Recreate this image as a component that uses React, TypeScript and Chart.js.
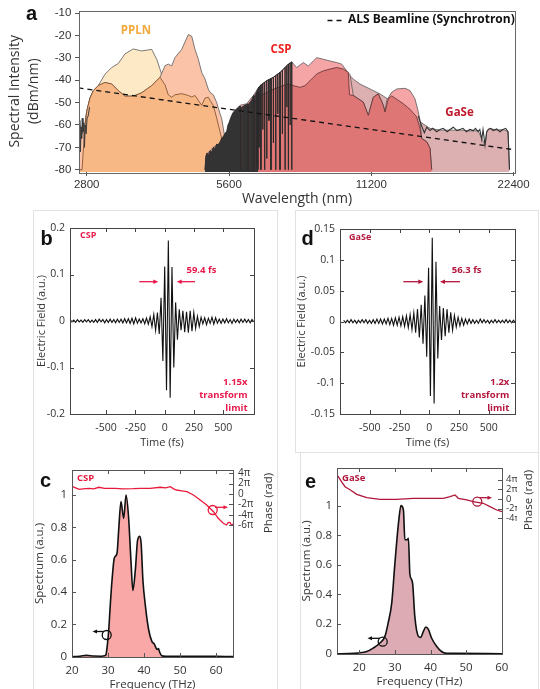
import React, { useEffect, useRef } from 'react';
import { Chart, registerables } from 'chart.js';

Chart.register(...registerables);

const SANS = "'Open Sans', 'DejaVu Sans', sans-serif";
const ARIAL = "'Liberation Sans', Arial, sans-serif";
const LETTER_FONT = "bold 20px 'Liberation Sans', Arial, sans-serif";
const INK = '#333333';

/* ---------------- panel a : spectral intensity vs wavelength ---------------- */
const aXTicks = [2800, 5600, 11200, 22400];
const aYTicks = [-80, -70, -60, -50, -40, -30, -20, -10];

const pplnWl = [2690, 2710, 2737, 2773, 2800, 2845, 2892, 2963, 3061, 3163, 3266, 3374, 3513, 3660, 3843, 3937, 4001, 4100, 4166, 4236, 4304, 4447, 4593, 4670, 4745, 4822, 4903, 4982, 5063, 5105, 5188, 5275, 5360, 5404, 5492, 5538];
const pplnA = [-80, -80, -80, -62, -54, -48, -44.6, -42.4, -37.3, -34.3, -32.5, -28.2, -26, -26.9, -26.2, -30.6, -35, -42, -46.5, -47.6, -46.5, -46, -46.8, -47.5, -46.8, -49, -51.2, -48, -47.6, -49, -51.2, -57, -63, -66, -80, -80];
const pplnB = [-63, -60, -64, -60, -54, -48, -44.6, -42.4, -41, -41.7, -44.6, -47.1, -47.1, -45.6, -42.4, -40.2, -38.7, -33.5, -32.8, -33.6, -29.9, -26.2, -19.6, -20.3, -26.2, -30.6, -36.5, -39.4, -44, -45.4, -46.5, -50, -55, -57.1, -66, -80];
const pplnEdgeWl = [2692, 2700, 2708, 2716, 2724, 2732, 2740, 2750, 2760, 2770, 2780, 2792, 2805, 2820, 2840];
const pplnEdgeDb = [-60, -68, -58, -72, -61, -66, -57, -63, -59, -70, -60, -64, -57, -56, -52];

const cspWl = [4982, 5024, 5188, 5360, 5538, 5718, 5908, 6104, 6304, 6513, 6729, 6949, 7179, 7357, 7475, 7600, 7788, 8042, 8241, 8444, 8585, 8866, 9160, 9463, 9696, 9935, 10097, 10260, 10773, 11038, 11310, 11588, 11874, 11973, 12072, 12370, 12675, 13198, 13523, 13856, 14081, 14198, 14316, 14670, 14907, 15031];
const cspDb = [-80, -73, -70, -68, -63, -54.2, -51.2, -50.5, -46.8, -42.4, -40.2, -38.7, -36.5, -34.3, -32.8, -31.8, -34.3, -32.1, -33.6, -31.4, -29.9, -30.6, -31.4, -32.1, -32.8, -35.8, -37.5, -46.8, -49.8, -55.7, -47.6, -46.1, -51.2, -54.2, -49, -45.4, -43.9, -43.6, -44.6, -48.3, -54.2, -57.9, -66, -67.5, -70.4, -80];
const cspLowWl = [4982, 5105, 5360, 5718, 6104, 6513, 6949, 7179, 7416, 7663, 7914, 8109, 8309, 8585, 8866, 9160, 9463, 9772, 10013, 10070, 10260, 10773, 11038, 11310, 11588, 11874, 11973, 12167, 12370, 12675, 13089, 13523, 13972, 14198, 14316, 14670, 14907, 15031];
const cspLowDb = [-80, -75, -71, -60, -53, -47, -44, -43, -41.7, -42.4, -43.2, -42.4, -40.2, -37.2, -35.8, -35, -34.3, -35, -36.5, -46.5, -46.8, -49.8, -55.7, -47.6, -46.1, -51.2, -54.2, -48.3, -47, -48.5, -50.5, -53, -56.4, -61.5, -66, -67.5, -70.4, -80];
const gaseWl = [9463, 9935, 10097, 10260, 10601, 11129, 11685, 12268, 12881, 13523, 14198, 14907, 15652, 16434, 17254, 18410, 18836, 19178, 19489, 19650, 19969, 20632, 21274, 21800, 21957];
const gaseDb = [-34.5, -36.5, -38, -39.5, -41.7, -43.9, -46.1, -49, -51.2, -54.9, -58.6, -61.5, -62.3, -62.3, -62.3, -62.7, -62.5, -66, -69, -63, -61.5, -62.3, -62, -63, -80];
const gaseNoiseWl = [14081, 14316, 14500, 14670, 14907, 15100, 15400, 15652, 15900, 16200, 16434, 16700, 17000, 17254, 17500, 17800, 18100, 18410, 18600, 18836, 19000, 19178, 19300, 19489, 19650, 19800, 19969, 20300, 20632, 20950, 21274, 21550, 21800, 21957];
const gaseNoiseDb = [-56, -60.5, -63.5, -61, -62.5, -61.5, -63, -62, -61.5, -63, -62, -61, -62.5, -62, -61.5, -63, -62, -62.5, -61.5, -63, -62, -66.5, -62, -69, -63, -62, -61.5, -62.5, -61.8, -63, -62, -61.5, -63, -80];
const absFillWl = [4982, 5000, 5030, 5060, 5105, 5150, 5188, 5230, 5275, 5320, 5360, 5400, 5450, 5500, 5538, 5570, 5600, 5640, 5680, 5718, 5760, 5800, 5850, 5908, 5940, 5941, 5975, 5976, 6010, 6060, 6104, 6150, 6151, 6185, 6186, 6220, 6260, 6304, 6330, 6331, 6365, 6366, 6400, 6450, 6451];
const absFillDb = [-80, -74, -72.5, -73.5, -71.5, -72, -70, -70.5, -68.5, -69, -67.5, -66, -65, -63.5, -63, -60, -59, -57, -55.5, -54.5, -54, -53, -52.5, -51.5, -52, -80, -80, -51.8, -51.5, -51, -50.8, -50.5, -80, -80, -50, -49.5, -48.5, -47, -46.8, -80, -80, -46.3, -45.5, -45, -80];
const absLineWl = [6420, 6420, 6428, 6480, 6480, 6488, 6540, 6540, 6548, 6600, 6600, 6608, 6660, 6660, 6668, 6729, 6729, 6737, 6800, 6800, 6808, 6870, 6870, 6878, 6949, 6949, 6957, 7030, 7030, 7038, 7100, 7100, 7108, 7179, 7179, 7187, 7260, 7260, 7268, 7357, 7357, 7365, 7420, 7420, 7428, 7475, 7475, 7483, 7540, 7540, 7548, 7600, 7600, 7608];
const absLineDb = [-44.4, -78, -44.4, -43.1, -70, -43.1, -42.1, -80, -42.1, -41.5, -62, -41.5, -40.9, -80, -40.9, -40.2, -75, -40.2, -39.7, -58, -39.7, -39.2, -80, -39.2, -38.7, -68, -38.7, -37.9, -80, -37.9, -37.2, -55, -37.2, -36.5, -80, -36.5, -35.5, -64, -35.5, -34.3, -80, -34.3, -33.5, -52, -33.5, -32.8, -80, -32.8, -32.3, -60, -32.3, -31.8, -80, -31.8];
const alsWl = [2690, 5600, 11200, 22555];
const alsDb = [-43.4, -53, -62, -71.1];

/* ---------------- panel b : CSP pulse ---------------- */
const timeTicks = [-500, -250, 0, 250, 500];
const bYTicks = [-0.2, -0.1, 0, 0.1, 0.2];
const bStartFs = -837;
const bStepFs = 15.5;
const bField = [
  0.002, -0.002, 0.003, -0.002, 0.002, -0.003, 0.003, -0.002, 0.002, -0.003,
  0.003, -0.002, 0.003, -0.003, 0.002, -0.003, 0.003, -0.003, 0.004, -0.002,
  0.003, -0.004, 0.003, -0.003, 0.004, -0.003, 0.003, -0.004, 0.004, -0.003,
  0.004, -0.004, 0.005, -0.004, 0.005, -0.005, 0.006, -0.006, 0.007, -0.005,
  0.004, -0.004, 0.005, -0.006, 0.006, -0.007, 0.009, -0.012, 0.014, -0.02,
  0.018, -0.028, 0.05, -0.086, 0.117, -0.149, 0.173, -0.165, 0.116, -0.1,
  0.04, -0.04, 0.025, -0.02, 0.022, -0.024, 0.02, -0.025, 0.022, -0.022,
  0.018, -0.016, 0.01, -0.012, 0.008, -0.006, 0.007, -0.008, 0.006, -0.005,
  0.008, -0.007, 0.007, -0.005, 0.004, -0.005, 0.004, -0.004, 0.005, -0.004,
  0.003, -0.005, 0.004, -0.003, 0.003, -0.004, 0.004, -0.003, 0.004, -0.003,
  0.003, -0.004, 0.003, -0.002,
];

/* ---------------- panel d : GaSe pulse ---------------- */
const dYTicks = [-0.15, -0.1, -0.05, 0, 0.05, 0.1, 0.15];
const dStartFs = -719;
const dStepFs = 15.5;
const dField = [
  0.002, -0.002, 0.002, -0.002, 0.003, -0.002, 0.002, -0.003, 0.002, -0.002,
  0.003, -0.002, 0.003, -0.003, 0.002, -0.003, 0.003, -0.003, 0.004, -0.003,
  0.004, -0.004, 0.004, -0.004, 0.005, -0.005, 0.005, -0.006, 0.006, -0.006,
  0.007, -0.007, 0.008, -0.008, 0.009, -0.01, 0.011, -0.013, 0.014, -0.018,
  0.02, -0.026, 0.027, -0.036, 0.042, -0.057, 0.087, -0.121, 0.136, -0.133,
  0.097, -0.06, 0.025, -0.03, 0.022, -0.024, 0.02, -0.018, 0.015, -0.014,
  0.01, -0.009, 0.007, -0.007, 0.005, -0.006, 0.004, -0.004, 0.004, -0.003,
  0.003, -0.003, 0.002, -0.003, 0.004, -0.002, 0.003, -0.002, 0.002, -0.003,
  0.002, -0.002, 0.003, -0.002, 0.002, -0.002, 0.002, -0.002, 0.003, -0.002,
  0.002, -0.002, 0.002, -0.002,
];

/* ---------------- panel c : CSP spectrum & phase ---------------- */
const cXTicks = [20, 30, 40, 50, 60];
const specTicks = [0, 0.2, 0.4, 0.6, 0.8, 1];
const cPhaseTicks = [-6, -4, -2, 0, 2, 4];
const cFreq = [20, 21, 22, 23, 24, 26, 28, 29, 29.4, 29.7, 30.2, 30.6, 31.1, 31.75, 32.5, 32.95, 33.6, 34.35, 35, 35.7, 36.4, 36.9, 37.6, 38.2, 38.8, 39.2, 39.7, 40.4, 41.3, 42.2, 42.8, 43.2, 43.6, 44.0, 44.3, 44.9, 46, 50, 55, 60, 65];
const cSpec = [0, 0.001, 0.002, 0.006, 0.008, 0.004, 0.003, 0.006, 0.01, 0.05, 0.165, 0.31, 0.47, 0.61, 0.64, 0.78, 0.96, 0.855, 1.0, 0.866, 0.58, 0.41, 0.54, 0.72, 0.745, 0.7, 0.47, 0.31, 0.165, 0.093, 0.08, 0.06, 0.045, 0.05, 0.03, 0.005, 0.002, 0.003, 0.003, 0.002, 0.001];
const cPhaseFreq = [20.2, 21, 22, 23, 24.8, 26, 27.5, 29, 32, 34, 37, 39, 41.7, 44.5, 46, 47.3, 48.2, 49, 50.5, 51.9, 53.7, 55.6, 57.4, 59.3, 60.6, 62, 62.9, 63.4, 63.9, 64.3, 64.7];
const cPhasePi = [1.41, 1.2, 0.9, 1.0, 1.1, 1.0, 1.3, 1.1, 1.1, 1.0, 1.03, 1.1, 1.1, 1.3, 1.2, 1.41, 1.0, 0.77, 0.6, 0.45, -0.19, -1.16, -2.13, -3.42, -4.7, -5.67, -6, -5.5, -5.55, -6, -5.8];

/* ---------------- panel e : GaSe spectrum & phase ---------------- */
const ePhaseTicks = [-4, -2, 0, 2, 4];
const eFreq = [13.7, 17, 19.7, 22.1, 23.9, 25.8, 27.2, 28.1, 29.1, 30, 31, 31.7, 32.4, 32.8, 33.5, 33.8, 34.2, 34.7, 35.0, 35.6, 36.6, 37.2, 38, 38.7, 39.4, 40.3, 41.7, 43.1, 44.5, 47.3, 60.1];
const eSpec = [0, 0.001, 0.005, 0.015, 0.038, 0.072, 0.117, 0.207, 0.34, 0.61, 0.88, 1.0, 0.97, 0.77, 0.77, 0.78, 0.54, 0.5, 0.47, 0.25, 0.117, 0.11, 0.15, 0.18, 0.165, 0.106, 0.05, 0.015, 0.003, 0.002, 0];
const ePhaseFreq = [13.7, 14.1, 15, 16, 17.5, 19.3, 22.1, 25.8, 30.5, 35.2, 39.9, 43.6, 45.5, 46.9, 47.8, 50.2, 52, 54.8, 56.7, 58.6, 60.1];
const ePhasePi = [4.9, 4.57, 3.55, 2.52, 1.85, 0.96, 0.27, -0.06, -0.06, 0.14, 0.14, 0.14, 0.47, 0.82, 0.14, -0.2, -0.55, -0.88, -1.58, -2.26, -2.6];

/* ---------------- helpers ---------------- */
const xy = (xs: number[], ys: number[]) => xs.map((x, i) => ({ x, y: ys[i] }));
const sampled = (start: number, step: number, ys: number[]) => ys.map((y, i) => ({ x: start + i * step, y }));
const pplnOverlap = pplnA.map((v, i) => Math.min(v, pplnB[i]));

const area = (data: any[], fill: string, stroke: string, w = 0.8, extra: any = {}) => ({
  data, borderColor: stroke, backgroundColor: fill, borderWidth: w, fill: 'start', pointRadius: 0, tension: 0, ...extra,
});
const trace = (data: any[], stroke: string, w = 1, extra: any = {}) => ({
  data, borderColor: stroke, borderWidth: w, fill: false, pointRadius: 0, tension: 0, ...extra,
});
const layered = (ds: any[]) => ds.map((d, i) => ({ ...d, order: -i }));

const fixW = (w: number) => (s: any) => { s.width = w; };
const fixH = (h: number) => (s: any) => { s.height = h; };
const setTicks = (vals: number[]) => (s: any) => { s.ticks = vals.map((v) => ({ value: v })); };
const num = (v: any) => String(Math.round(Number(v) * 1000) / 1000);
const piLabel = (v: any) => (Number(v) === 0 ? '0' : `${v}\u03C0`);
const quietGrid = { display: true, drawOnChartArea: false, drawTicks: false };
const f = (size: number, weight: any = 'normal', family = SANS, lineHeight: any = 1.2) => ({ family, size, weight, lineHeight });

type Txt = { t: string; x: number; y: number; font: string; color: string; align?: CanvasTextAlign; base?: CanvasTextBaseline; rot?: number };
type Arrow = { x1: number; y1: number; x2: number; y2: number; color: string; w?: number; head?: number };
type Circ = { x: number; y: number; r: number; color: string; w?: number };
type TickSpec = { scale: string; sides: string[]; len: number; color: string };
type Decor = { frame?: { color: string; width: number }; ticks?: TickSpec[]; texts?: Txt[]; arrows?: Arrow[]; circles?: Circ[]; dashes?: { x1: number; x2: number; y: number; color: string; dash: number[]; w: number }[] };

function decorPlugin(d: Decor) {
  return {
    id: 'decor',
    afterDraw(chart: any) {
      const ctx: CanvasRenderingContext2D = chart.ctx;
      const a = chart.chartArea;
      ctx.save();
      for (const ts of d.ticks || []) {
        const sc = chart.scales[ts.scale];
        ctx.strokeStyle = ts.color;
        ctx.lineWidth = 1;
        for (const tk of sc.ticks) {
          const p = Math.round(sc.getPixelForValue(tk.value)) + 0.5;
          ctx.beginPath();
          for (const s of ts.sides) {
            if (s === 'bottom') { ctx.moveTo(p, a.bottom); ctx.lineTo(p, a.bottom - ts.len); }
            if (s === 'top') { ctx.moveTo(p, a.top); ctx.lineTo(p, a.top + ts.len); }
            if (s === 'left') { ctx.moveTo(a.left, p); ctx.lineTo(a.left + ts.len, p); }
            if (s === 'right') { ctx.moveTo(a.right, p); ctx.lineTo(a.right - ts.len, p); }
          }
          ctx.stroke();
        }
      }
      if (d.frame) {
        ctx.strokeStyle = d.frame.color;
        ctx.lineWidth = d.frame.width;
        ctx.strokeRect(Math.round(a.left) + 0.5, Math.round(a.top) + 0.5, Math.round(a.right - a.left), Math.round(a.bottom - a.top));
      }
      for (const ds of d.dashes || []) {
        ctx.strokeStyle = ds.color;
        ctx.lineWidth = ds.w;
        ctx.setLineDash(ds.dash);
        ctx.beginPath();
        ctx.moveTo(ds.x1, ds.y);
        ctx.lineTo(ds.x2, ds.y);
        ctx.stroke();
        ctx.setLineDash([]);
      }
      for (const c of d.circles || []) {
        ctx.strokeStyle = c.color;
        ctx.lineWidth = c.w || 1.3;
        ctx.beginPath();
        ctx.arc(c.x, c.y, c.r, 0, Math.PI * 2);
        ctx.stroke();
      }
      for (const ar of d.arrows || []) {
        const h = ar.head || 5;
        const ang = Math.atan2(ar.y2 - ar.y1, ar.x2 - ar.x1);
        ctx.strokeStyle = ar.color;
        ctx.fillStyle = ar.color;
        ctx.lineWidth = ar.w || 1.3;
        ctx.beginPath();
        ctx.moveTo(ar.x1, ar.y1);
        ctx.lineTo(ar.x2 - Math.cos(ang) * h * 0.8, ar.y2 - Math.sin(ang) * h * 0.8);
        ctx.stroke();
        ctx.beginPath();
        ctx.moveTo(ar.x2, ar.y2);
        ctx.lineTo(ar.x2 - Math.cos(ang) * h + Math.sin(ang) * h * 0.45, ar.y2 - Math.sin(ang) * h - Math.cos(ang) * h * 0.45);
        ctx.lineTo(ar.x2 - Math.cos(ang) * h - Math.sin(ang) * h * 0.45, ar.y2 - Math.sin(ang) * h + Math.cos(ang) * h * 0.45);
        ctx.closePath();
        ctx.fill();
      }
      for (const t of d.texts || []) {
        ctx.save();
        ctx.font = t.font;
        ctx.fillStyle = t.color;
        ctx.textAlign = t.align || 'left';
        ctx.textBaseline = t.base || 'middle';
        ctx.translate(t.x, t.y);
        if (t.rot) ctx.rotate(t.rot);
        ctx.fillText(t.t, 0, 0);
        ctx.restore();
      }
      ctx.restore();
    },
  };
}

const baseOptions = (padding: any) => ({
  responsive: false,
  animation: false,
  events: [],
  layout: { padding },
  plugins: { legend: { display: false }, tooltip: { enabled: false } },
});

/* ---------------- chart configurations ---------------- */
function configA(): any {
  return {
    type: 'line',
    data: {
      datasets: layered([
        area(xy(pplnWl, pplnA), '#fde9c6', '#5a5a5a'),
        area(xy(pplnWl, pplnB), '#fbc4a9', '#5a5a5a'),
        area(xy(pplnWl, pplnOverlap), '#f7b886', '#7a4a2a'),
        area(xy(gaseWl, gaseDb), '#dcafb1', '#5a5a5a'),
        area(xy(cspWl, cspDb), '#f6a5a7', '#5a5a5a'),
        area(xy(cspLowWl, cspLowDb), '#de7676', '#5a2f2f'),
        area(xy(absFillWl, absFillDb), '#333333', '#2a2a2a', 0.8),
        trace(xy(absLineWl, absLineDb), '#2a2a2a', 1),
        trace(xy(pplnEdgeWl, pplnEdgeDb), '#3a3a3a', 1),
        trace(xy(gaseNoiseWl, gaseNoiseDb), '#333333', 1.1),
        trace(xy(alsWl, alsDb), '#111111', 1.3, { borderDash: [5, 4] }),
      ]),
    },
    options: {
      ...baseOptions({ left: 0, top: 9, right: 25, bottom: 481 }),
      scales: {
        x: {
          type: 'logarithmic', min: 2697, max: 22552,
          afterBuildTicks: setTicks(aXTicks), afterFit: fixH(36),
          ticks: { callback: (v: any) => String(v), font: f(11.5, 'normal', ARIAL), color: INK, padding: 2.4, autoSkip: false, maxRotation: 0 },
          grid: { display: true, drawOnChartArea: false, drawTicks: true, tickLength: 4, color: '#555' },
          border: { display: false },
          title: { display: true, text: 'Wavelength (nm)', font: f(14), color: INK, padding: { top: 0, bottom: 0.6 } },
        },
        y: {
          min: -81.02, max: -8.82,
          afterBuildTicks: setTicks(aYTicks), afterFit: fixW(79),
          ticks: { callback: (v: any) => String(v), font: f(11.5, 'normal', ARIAL), color: INK, padding: 3.6 },
          grid: { display: true, drawOnChartArea: false, drawTicks: true, tickLength: 4, color: '#555' },
          border: { display: false },
          title: { display: true, text: ['Spectral Intensity', '(dBm/nm)'], font: f(14, 'normal', SANS, '19px'), color: INK, padding: { top: 6, bottom: 0 } },
        },
      },
    },
    plugins: [decorPlugin({
      frame: { color: '#666', width: 1 },
      texts: [
        { t: 'a', x: 26, y: 20, font: LETTER_FONT, color: '#111', base: 'alphabetic' },
        { t: 'PPLN', x: 136, y: 31, font: `bold 11.5px ${SANS}`, color: '#f2a93b', align: 'center' },
        { t: 'CSP', x: 281, y: 50, font: `bold 11.5px ${SANS}`, color: '#ee2222', align: 'center' },
        { t: 'GaSe', x: 459.5, y: 113, font: `bold 11.5px ${SANS}`, color: '#c0182c', align: 'center' },
        { t: 'ALS Beamline (Synchrotron)', x: 348, y: 20, font: `bold 12px ${SANS}`, color: '#111' },
      ],
      dashes: [{ x1: 327.5, x2: 345, y: 20.5, color: '#111', dash: [5, 4], w: 1.3 }],
    })],
  };
}

function pulseConfig(opts: { data: any[]; yTicks: number[]; yMax: number; xMin: number; xMax: number; pad: any; yW: number; decor: Decor }): any {
  return {
    type: 'line',
    data: { datasets: [trace(opts.data, '#111111', 1.1)] },
    options: {
      ...baseOptions(opts.pad),
      scales: {
        x: {
          type: 'linear', min: opts.xMin, max: opts.xMax,
          afterBuildTicks: setTicks(timeTicks), afterFit: fixH(36),
          ticks: { callback: (v: any) => String(v), font: f(10.5), color: INK, padding: 7.7, autoSkip: false, maxRotation: 0 },
          grid: quietGrid, border: { display: false },
          title: { display: true, text: 'Time (fs)', font: f(11), color: INK, padding: { top: 0, bottom: 0.4 } },
        },
        y: {
          min: -opts.yMax, max: opts.yMax,
          afterBuildTicks: setTicks(opts.yTicks), afterFit: fixW(opts.yW),
          ticks: { callback: num, font: f(10.5), color: INK, padding: 5 },
          grid: quietGrid, border: { display: false },
          title: { display: true, text: 'Electric Field (a.u.)', font: f(11), color: INK, padding: { top: 5.1, bottom: 0 } },
        },
      },
    },
    plugins: [decorPlugin(opts.decor)],
  };
}

function spectrumConfig(opts: { spec: any[]; phase: any[]; fill: string; phaseColor: string; xMin: number; xMax: number; yMax: number; pMin: number; pMax: number; pTicks: number[]; pFont: number; pPad: number; pad: any; yW: number; pW: number; xH: number; xLabPad: number; xTitlePad: number; decor: Decor }): any {
  return {
    type: 'line',
    data: {
      datasets: layered([
        area(opts.spec, opts.fill, '#111111', 1.6, { yAxisID: 'y', cubicInterpolationMode: 'monotone' }),
        trace(opts.phase, opts.phaseColor, 1.3, { yAxisID: 'y2' }),
      ]),
    },
    options: {
      ...baseOptions(opts.pad),
      scales: {
        x: {
          type: 'linear', min: opts.xMin, max: opts.xMax,
          afterBuildTicks: setTicks(cXTicks), afterFit: fixH(opts.xH),
          ticks: { callback: (v: any) => String(v), font: f(11.5), color: INK, padding: opts.xLabPad, autoSkip: false, maxRotation: 0 },
          grid: quietGrid, border: { display: false },
          title: { display: true, text: 'Frequency (THz)', font: f(11.5), color: INK, padding: { top: 0, bottom: opts.xTitlePad } },
        },
        y: {
          position: 'left', min: -0.002, max: opts.yMax,
          afterBuildTicks: setTicks(specTicks), afterFit: fixW(opts.yW),
          ticks: { callback: num, font: f(11.5), color: INK, padding: 5 },
          grid: quietGrid, border: { display: false },
          title: { display: true, text: 'Spectrum (a.u.)', font: f(11.5), color: INK, padding: { top: 5.1, bottom: 0 } },
        },
        y2: {
          position: 'right', min: opts.pMin, max: opts.pMax,
          afterBuildTicks: setTicks(opts.pTicks), afterFit: fixW(opts.pW),
          ticks: { callback: piLabel, font: f(opts.pFont), color: INK, padding: opts.pPad },
          grid: quietGrid, border: { display: false },
        },
      },
    },
    plugins: [decorPlugin(opts.decor)],
  };
}

const CSP_RED = '#e8194b';
const GASE_RED = '#b3163c';
const bold = (s: number) => `bold ${s}px ${SANS}`;

function configB(): any {
  return pulseConfig({
    data: sampled(bStartFs, bStepFs, bField), yTicks: bYTicks, yMax: 0.2, xMin: -807, xMax: 761,
    pad: { left: 30, top: 228, right: 286, bottom: 239 }, yW: 40,
    decor: {
      frame: { color: '#444', width: 1 },
      ticks: [{ scale: 'x', sides: ['bottom', 'top'], len: 4, color: '#444' }, { scale: 'y', sides: ['left', 'right'], len: 4, color: '#444' }],
      texts: [
        { t: 'b', x: 40.5, y: 245, font: LETTER_FONT, color: '#111', base: 'alphabetic' },
        { t: 'CSP', x: 80, y: 235.5, font: bold(9), color: CSP_RED },
        { t: '59.4 fs', x: 186.5, y: 270, font: bold(9.5), color: CSP_RED },
        { t: '1.15x', x: 247.5, y: 382.7, font: bold(9.5), color: CSP_RED, align: 'right' },
        { t: 'transform', x: 247.5, y: 395.7, font: bold(9.5), color: CSP_RED, align: 'right' },
        { t: 'limit', x: 247.5, y: 408.3, font: bold(9.5), color: CSP_RED, align: 'right' },
      ],
      arrows: [
        { x1: 139.3, y1: 281.7, x2: 158.3, y2: 281.7, color: CSP_RED },
        { x1: 195, y1: 281.7, x2: 176.7, y2: 281.7, color: CSP_RED },
      ],
    },
  });
}

function configD(): any {
  return pulseConfig({
    data: sampled(dStartFs, dStepFs, dField), yTicks: dYTicks, yMax: 0.15, xMin: -750, xMax: 720,
    pad: { left: 290, top: 229, right: 25, bottom: 239 }, yW: 50,
    decor: {
      frame: { color: '#444', width: 1 },
      ticks: [{ scale: 'x', sides: ['bottom', 'top'], len: 4, color: '#444' }, { scale: 'y', sides: ['left', 'right'], len: 4, color: '#444' }],
      texts: [
        { t: 'd', x: 301.5, y: 245, font: LETTER_FONT, color: '#111', base: 'alphabetic' },
        { t: 'GaSe', x: 349, y: 237.3, font: bold(9), color: GASE_RED },
        { t: '56.3 fs', x: 451.7, y: 270.7, font: bold(9.5), color: GASE_RED },
        { t: '1.2x', x: 509.3, y: 382.7, font: bold(9.5), color: GASE_RED, align: 'right' },
        { t: 'transform', x: 509.3, y: 395.7, font: bold(9.5), color: GASE_RED, align: 'right' },
        { t: 'limit', x: 509.3, y: 408.3, font: bold(9.5), color: GASE_RED, align: 'right' },
      ],
      arrows: [
        { x1: 403.3, y1: 281.7, x2: 423.3, y2: 281.7, color: GASE_RED },
        { x1: 460, y1: 281.7, x2: 440, y2: 281.7, color: GASE_RED },
      ],
    },
  });
}

function configC(): any {
  return spectrumConfig({
    spec: xy(cFreq, cSpec), phase: xy(cPhaseFreq, cPhasePi), fill: '#f9a7a7', phaseColor: '#e8193c',
    xMin: 20, xMax: 64.7, yMax: 1.155, pMin: -31.53, pMax: 4.64, pTicks: cPhaseTicks, pFont: 10, pPad: 5,
    pad: { left: 28, top: 470, right: 287, bottom: 0 }, yW: 44, pW: 20, xH: 32, xLabPad: 6.4, xTitlePad: -2.6,
    decor: {
      frame: { color: '#555', width: 1 },
      ticks: [{ scale: 'x', sides: ['bottom', 'top'], len: 4, color: '#555' }, { scale: 'y', sides: ['left'], len: 4, color: '#555' }, { scale: 'y2', sides: ['right'], len: 4, color: '#555' }],
      texts: [
        { t: 'c', x: 40, y: 487.3, font: LETTER_FONT, color: '#111', base: 'alphabetic' },
        { t: 'CSP', x: 77, y: 478.3, font: bold(9.5), color: '#e8193c' },
        { t: 'Phase (rad)', x: 268.3, y: 503, font: `11.5px ${SANS}`, color: INK, align: 'center', rot: -Math.PI / 2 },
      ],
      circles: [
        { x: 106.7, y: 635, r: 4.5, color: '#111' },
        { x: 212.7, y: 510, r: 4.5, color: '#e8193c' },
      ],
      arrows: [
        { x1: 104, y1: 631.5, x2: 92.5, y2: 631.5, color: '#111', head: 4.5 },
        { x1: 215, y1: 507.3, x2: 228, y2: 507.3, color: '#e8193c', head: 4.5 },
      ],
    },
  });
}

function configE(): any {
  return spectrumConfig({
    spec: xy(eFreq, eSpec), phase: xy(ePhaseFreq, ePhasePi), fill: '#dcabb4', phaseColor: '#b0163a',
    xMin: 13.74, xMax: 60.08, yMax: 1.254, pMin: -31.8, pMax: 6.36, pTicks: ePhaseTicks, pFont: 9.5, pPad: 4,
    pad: { left: 295, top: 468, right: 23, bottom: 0 }, yW: 42, pW: 15, xH: 35, xLabPad: 6.4, xTitlePad: 0.4,
    decor: {
      frame: { color: '#555', width: 1 },
      ticks: [{ scale: 'x', sides: ['bottom', 'top'], len: 4, color: '#555' }, { scale: 'y', sides: ['left'], len: 4, color: '#555' }, { scale: 'y2', sides: ['right'], len: 4, color: '#555' }],
      texts: [
        { t: 'e', x: 305, y: 488.3, font: LETTER_FONT, color: '#111', base: 'alphabetic' },
        { t: 'GaSe', x: 342, y: 478.7, font: bold(9.5), color: '#b0163a' },
        { t: 'Phase (rad)', x: 529, y: 500, font: `11.5px ${SANS}`, color: INK, align: 'center', rot: -Math.PI / 2 },
      ],
      circles: [
        { x: 382.7, y: 641.7, r: 4.5, color: '#111' },
        { x: 477.3, y: 501.7, r: 4.5, color: '#b0163a' },
      ],
      arrows: [
        { x1: 380, y1: 638.3, x2: 367.5, y2: 638.3, color: '#111', head: 4.5 },
        { x1: 479.5, y1: 497.7, x2: 492, y2: 497.7, color: '#b0163a', head: 4.5 },
      ],
    },
  });
}

export default function App() {
  const rA = useRef<HTMLCanvasElement>(null);
  const rB = useRef<HTMLCanvasElement>(null);
  const rC = useRef<HTMLCanvasElement>(null);
  const rD = useRef<HTMLCanvasElement>(null);
  const rE = useRef<HTMLCanvasElement>(null);

  useEffect(() => {
    const charts = [
      new Chart(rA.current as HTMLCanvasElement, configA()),
      new Chart(rB.current as HTMLCanvasElement, configB()),
      new Chart(rC.current as HTMLCanvasElement, configC()),
      new Chart(rD.current as HTMLCanvasElement, configD()),
      new Chart(rE.current as HTMLCanvasElement, configE()),
    ];
    return () => charts.forEach((c) => c.destroy());
  }, []);

  const cv: React.CSSProperties = { position: 'absolute', left: 0, top: 0, width: 540, height: 689 };
  const line = '1px solid #e2e2e2';
  return (
    <div style={{ position: 'absolute', left: 0, top: 0, width: 540, height: 689, background: '#ffffff', overflow: 'hidden' }}>
      <div style={{ position: 'absolute', left: 33, top: 210, width: 243, height: 479, borderLeft: line, borderTop: line, borderRight: line }} />
      <div style={{ position: 'absolute', left: 295, top: 210, width: 242, height: 241, borderLeft: line, borderTop: line, borderRight: line, borderBottom: line }} />
      <div style={{ position: 'absolute', left: 300, top: 452, width: 237, height: 237, borderLeft: line, borderRight: line }} />
      <canvas ref={rA} width={540} height={689} style={cv} />
      <canvas ref={rB} width={540} height={689} style={cv} />
      <canvas ref={rC} width={540} height={689} style={cv} />
      <canvas ref={rD} width={540} height={689} style={cv} />
      <canvas ref={rE} width={540} height={689} style={cv} />
    </div>
  );
}
